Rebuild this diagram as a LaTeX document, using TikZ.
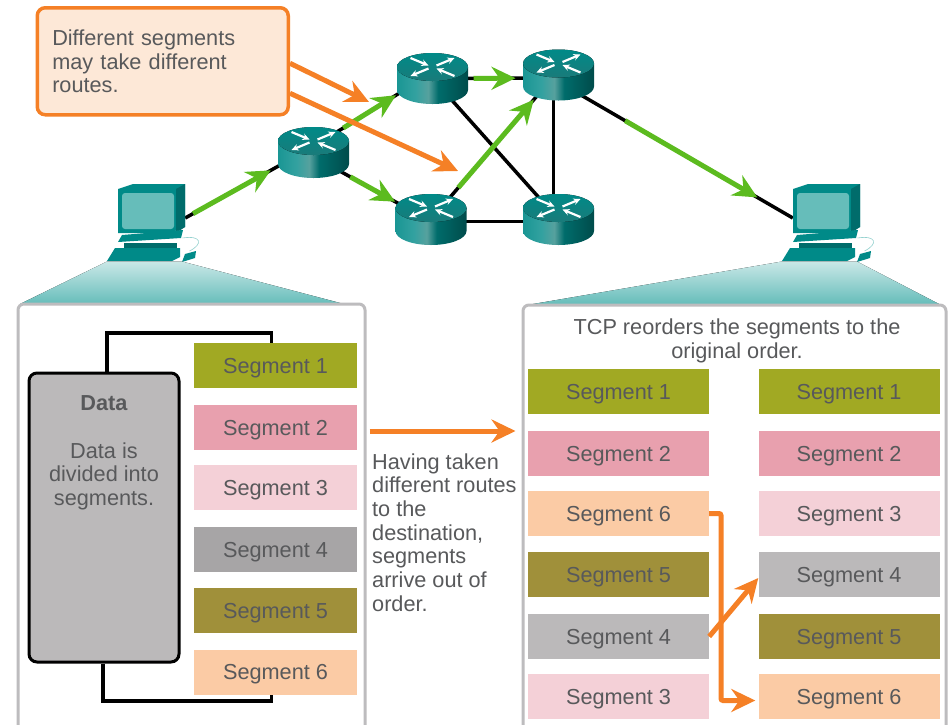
\documentclass[tikz,border=0pt]{standalone}
\usepackage{fontspec}
\setmainfont{Liberation Sans}
\usepackage{xcolor}
\usetikzlibrary{arrows.meta}
\definecolor{tealm}{HTML}{008A88}
\definecolor{teald}{HTML}{006C6B}
\definecolor{teall}{HTML}{66BDBA}
\definecolor{orangem}{HTML}{F58026}
\definecolor{greenm}{HTML}{5CBB1F}
\definecolor{txt}{HTML}{58595B}
\definecolor{panelg}{HTML}{BDBCBE}
\definecolor{seg1}{HTML}{A1A923}
\definecolor{seg2}{HTML}{E8A0AE}
\definecolor{seg3}{HTML}{F4D0D7}
\definecolor{seg4}{HTML}{A7A5A6}
\definecolor{seg4b}{HTML}{BBB9BA}
\definecolor{seg5}{HTML}{A0903A}
\definecolor{seg6}{HTML}{FBCBA5}
\pgfdeclarehorizontalshading{routerside}{100bp}{
        color(0bp)=(tealm!90!white);
        color(25bp)=(tealm!90!white);
        color(38bp)=(tealm!80!white);
        color(47bp)=(teall!85!black);
        color(54bp)=(teald);
        color(75bp)=(teald!70!black);
        color(100bp)=(teald!70!black)}
\tikzset{
        every node/.style={font=\fontsize{21.7}{23.7}\selectfont,text=txt,inner sep=0pt},
        panel/.style={draw=panelg,line width=3pt,fill=white,rounded corners=6pt,minimum width=#1,minimum height=436pt},
        segl/.style={fill=#1,minimum width=163pt,minimum height=45pt,text height=20pt,text depth=4.6pt},
        segr/.style={fill=#1,minimum width=181pt,minimum height=45pt,text height=20pt,text depth=4.6pt},
        routerbox/.style={minimum width=71pt,minimum height=51pt},
        pcbox/.style={minimum width=67pt,minimum height=76pt},
        blackline/.style={line width=3.5pt,black},
        greenarrow/.style={line width=5pt,greenm,-{Stealth[length=24pt,width=23pt,inset=8pt]}},
        orangearrow/.style={line width=5pt,orangem,-{Stealth[length=24pt,width=23pt,inset=8pt]}},
        fade/.style={top color=teall!35!white,bottom color=teall,draw=none},
        routerarrow/.style={white,line width=2.2pt,-{Stealth[length=7pt,width=6.5pt]}}
}
\newcommand{\routericon}[1]{
        \begin{scope}[shift={(#1.center)}]
        \path[shading=routerside] (-35.5,-11.5) -- (-35.5,11.5) arc[start angle=180,end angle=0,x radius=35.5,y radius=14] -- (35.5,-11.5) -- cycle;
        \fill[top color=tealm,bottom color=teald!90!white] (0,-11.5) ellipse[x radius=35.5,y radius=14];
        \draw[routerarrow] (-22,-20.5) -- (-4,-13);
        \draw[routerarrow] (22,-2.5) -- (4,-10);
        \draw[routerarrow] (4,-13) -- (22,-20.5);
        \draw[routerarrow] (-4,-10) -- (-22,-2.5);
        \end{scope}
}
\newcommand{\pcicon}[1]{
        \begin{scope}[shift={(#1.center)}]
        \fill[tealm] (-33.5,-29) -- (-18.5,-34) -- (33.5,-34) -- (33.5,9) -- (18.5,15) -- (-33.5,15) -- cycle;
        \fill[teald] (24.5,-29) -- (33.5,-34) -- (33.5,9) -- (24.5,15) -- cycle;
        \fill[teall,rounded corners=3pt] (-29.5,-25) rectangle (22.5,11);
        \fill[tealm] (-29.5,17) -- (31.5,12) -- (29.5,20) -- (-33.5,24) -- cycle;
        \fill[teald] (-27.5,25) rectangle (25.5,30);
        \fill[tealm] (-36.5,30) -- (28.5,30) -- (28.5,39) -- (20.5,43) -- (-44.5,43) -- cycle;
        \fill[tealm] (33.5,36) -- (44.5,33) -- (43.5,40) -- (30.5,44) -- cycle;
        \draw[teall!70!white,line width=.6pt] (31,20) .. controls (50,17) and (52,26) .. (38,33);
        \end{scope}
}

\begin{document}
\begin{tikzpicture}[x=1pt,y=-1pt]
        \clip (0,0) rectangle (949,724);
        \fill[white] (0,0) rectangle (949,724);

        \node[routerbox](r1) at (313.5,152.5) {};
        \node[routerbox](r2) at (432.5,78.5) {};
        \node[routerbox](r3) at (431,219.5) {};
        \node[routerbox](r4) at (558.5,75) {};
        \node[routerbox](r5) at (558.5,219.5) {};
        \node[pcbox](pcl) at (151.5,218) {};
        \node[pcbox](pcr) at (826.5,218) {};

        \draw[blackline](pcl.east)--([yshift=6pt]r1.center);
        \draw[blackline]([yshift=6pt]r1.center)--([yshift=6pt]r2.center);
        \draw[blackline]([yshift=-4pt]r1.center)--([yshift=-2pt]r3.center);
        \draw[blackline](r2.center)--([yshift=-3pt]r4.center);
        \draw[blackline](r2.center)--(r5.center);
        \draw[blackline](r3.center)--([xshift=-13pt,yshift=-11pt]r4.center);
        \draw[blackline]([yshift=-2pt]r3.center)--([yshift=-2pt]r5.center);
        \draw[blackline]([xshift=-5pt]r4.center)--([xshift=-5pt]r5.center);
        \draw[blackline]([yshift=-7pt]r4.center)--(pcr.west);

        \draw[greenarrow,shorten <=9pt,shorten >=49pt](pcl.east)--([yshift=6pt]r1.center);
        \draw[greenarrow,shorten <=35pt,shorten >=43pt]([yshift=6pt]r1.center)--([yshift=6pt]r2.center);
        \draw[greenarrow,shorten <=42pt,shorten >=41pt]([yshift=-4pt]r1.center)--([yshift=-2pt]r3.center);
        \draw[greenarrow,shorten <=41pt,shorten >=43pt](r2.center)--([yshift=-3pt]r4.center);
        \draw[greenarrow,shorten <=42pt,shorten >=18pt](r3.center)--([xshift=-13pt,yshift=-11pt]r4.center);
        \draw[greenarrow,shorten <=77pt,shorten >=41pt]([yshift=-7pt]r4.center)--(pcr.west);

        \routericon{r1}
        \routericon{r2}
        \routericon{r3}
        \routericon{r4}
        \routericon{r5}
        \pcicon{pcl}
        \pcicon{pcr}

        \fill[fade] (107,261.5) -- (182,261.5) -- (344,304) -- (20,304) -- cycle;
        \fill[fade] (782,261.5) -- (857,261.5) -- (939,304) -- (533,304) -- cycle;

        \node[panel=347pt](pl) at (191.5,522) {};
        \node[panel=423pt](pr) at (734.5,523) {};

        \node[segl=seg1](l1) at (275.5,365.5) {Segment 1};
        \node[segl=seg2](l2) at (275.5,427.5) {Segment 2};
        \node[segl=seg3](l3) at (275.5,487.5) {Segment 3};
        \node[segl=seg4](l4) at (275.5,549.5) {Segment 4};
        \node[segl=seg5](l5) at (275.5,610.5) {Segment 5};
        \node[segl=seg6](l6) at (275.5,672) {Segment 6};

        \node[draw=black,line width=3pt,fill=seg4b,rounded corners=8pt,minimum width=150pt,minimum height=289pt](data) at (104,517.5) {};
        \node[align=center](datatext) at (104,453) {\textbf{Data}\\[23.7pt]Data is\\divided into\\segments.};

        \coordinate(bt) at (190,333);
        \coordinate(bb) at (190,701);
        \draw[blackline]([xshift=3pt]data.north) |- (bt) -| ([xshift=-4pt]l1.north);
        \draw[blackline]([xshift=-1pt]data.south) |- (bb) -| ([xshift=-4pt]l6.south);

        \node[align=center](tcp) at (737,341) {TCP reorders the segments to the\\original order.};

        \node[segr=seg1](m1) at (618.5,391.5) {Segment 1};
        \node[segr=seg2](m2) at (618.5,453.5) {Segment 2};
        \node[segr=seg6](m3) at (618.5,513.5) {Segment 6};
        \node[segr=seg5](m4) at (618.5,574.5) {Segment 5};
        \node[segr=seg4b](m5) at (618.5,636.5) {Segment 4};
        \node[segr=seg3](m6) at (618.5,696.5) {Segment 3};

        \node[segr=seg1](n1) at (849,391.5) {Segment 1};
        \node[segr=seg2](n2) at (849,453.5) {Segment 2};
        \node[segr=seg3](n3) at (849,513.5) {Segment 3};
        \node[segr=seg4b](n4) at (849,574.5) {Segment 4};
        \node[segr=seg5](n5) at (849,636.5) {Segment 5};
        \node[segr=seg6](n6) at (849,696.5) {Segment 6};

        \node[align=left,anchor=west](note) at (372,532.5) {Having taken\\different routes\\to the\\destination,\\segments\\arrive out of\\order.};

        \coordinate(c1) at (369,102);
        \coordinate(c2) at (458,171);
        \coordinate(oa) at (440,431);
        \coordinate(ot) at (721,600);
        \draw[orangearrow]([xshift=3pt]pl.east |- oa)--([xshift=-6pt]pr.west |- oa);
        \draw[orangearrow,rounded corners=2pt](m3.east) -| (ot) |- ([yshift=-4pt,xshift=-3pt]n6.west);
        \draw[orangearrow](m5.east)--([yshift=-3.5pt]n4.west);

        \node[draw=orangem,line width=3.5pt,fill=seg6!45!white,rounded corners=8pt,align=left,anchor=north west,minimum width=251pt,minimum height=107pt,text width=221pt,yshift=0pt](call) at (35.5,6) {Different segments\\may take different\\routes.};
        \draw[orangearrow]([yshift=-2pt]call.east)--(c1);
        \draw[orangearrow]([yshift=-32pt]call.east)--(c2);
\end{tikzpicture}
\end{document}
